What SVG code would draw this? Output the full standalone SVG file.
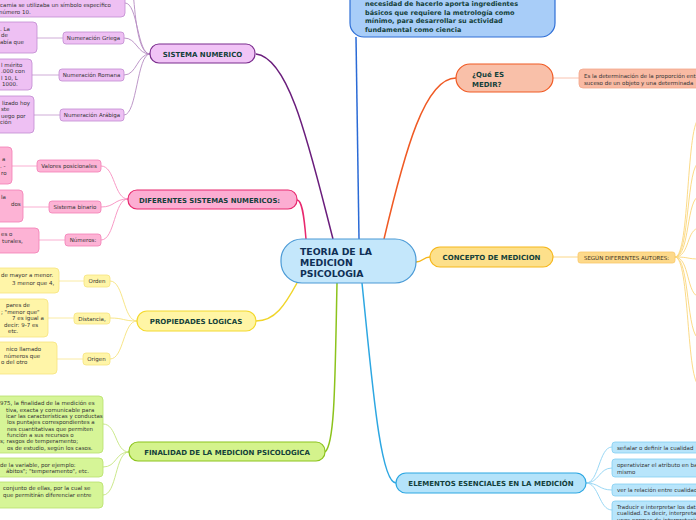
<svg xmlns="http://www.w3.org/2000/svg" width="696" height="520" viewBox="0 0 696 520">
<style>
.t{font-family:"DejaVu Sans","Liberation Sans",sans-serif;font-weight:bold;fill:#133f3a}
.l{font-family:"DejaVu Sans","Liberation Sans",sans-serif;font-size:5.5px;fill:#333}
.c{fill:none}
.m{text-anchor:middle}
</style>
<rect width="696" height="520" fill="#fff"/>
<g id="connectors" class="c">
  <path d="M333,239 C310,150 290,58 256,54" stroke="#6a1d7c" stroke-width="1.5"/>
  <path d="M306,239 C304,215 302,200 297,200" stroke="#e8286e" stroke-width="1.5"/>
  <path d="M359,239 C358,150 357,80 356,37" stroke="#2a6ad6" stroke-width="1.5"/>
  <path d="M384,239 C405,150 425,78 456,78" stroke="#f05a24" stroke-width="1.5"/>
  <path d="M416,262 C423,262 423,257 430,257" stroke="#f6b71c" stroke-width="1.5"/>
  <path d="M297,283 C285,305 275,321 256,321" stroke="#f0d52a" stroke-width="1.5"/>
  <path d="M337,283 C335,380 335,444 325,452" stroke="#8cc31c" stroke-width="1.5"/>
  <path d="M362,283 C372,380 380,483 396,483" stroke="#2da7e2" stroke-width="1.5"/>
  <g stroke="#b58bc2" stroke-width="0.9">
    <path d="M150,54 C137,54 138,3 125,3"/>
    <path d="M150,54 C137,54 135,10 133,-8"/>
    <path d="M150,54 C137,54 137,38 124,38"/>
    <path d="M150,54 C137,54 137,75 124,75"/>
    <path d="M150,54 C137,54 137,115 124,115"/>
    <path d="M63,38 H37 M59,75 H32 M60,115 H34" stroke="#c9a3d2"/>
  </g>
  <g stroke="#f78fc0" stroke-width="0.9">
    <path d="M128,199 C114,199 115,166 101,166"/>
    <path d="M128,199 C114,199 115,207 101,207"/>
    <path d="M128,199 C114,199 115,240 101,240"/>
    <path d="M37,166 H12 M49,207 H23 M65,240 H39" stroke="#f9a6cd"/>
  </g>
  <g stroke="#f6e27a" stroke-width="0.9">
    <path d="M137,321 C123,321 124,281 110,281"/>
    <path d="M137,321 C123,321 124,318 110,318"/>
    <path d="M137,321 C123,321 124,359 110,359"/>
    <path d="M84,281 H59 M74,318 H48 M83,359 H57" stroke="#f9e99a"/>
  </g>
  <g stroke="#c5e57f" stroke-width="0.9">
    <path d="M129,452 C115,452 117,424 103,424"/>
    <path d="M129,452 C115,452 117,467 103,467"/>
    <path d="M129,452 C115,452 117,495 103,495"/>
  </g>
  <path d="M553,78 H579" stroke="#f8bba6" stroke-width="0.9"/>
  <path d="M553,257 H578" stroke="#fbd27a" stroke-width="0.9"/>
  <g stroke="#fbd679" stroke-width="0.9">
    <path d="M675,257 C690,257 686,120 700,118"/>
    <path d="M675,257 C690,257 686,163 700,162"/>
    <path d="M675,257 C690,257 686,197 700,196"/>
    <path d="M675,257 C690,257 686,228 700,228"/>
    <path d="M675,257 C690,257 686,259 700,259"/>
    <path d="M675,257 C690,257 686,296 700,297"/>
    <path d="M675,257 C690,257 686,338 700,339"/>
    <path d="M675,257 C690,257 686,384 700,386"/>
  </g>
  <g stroke="#8fd3f3" stroke-width="0.9">
    <path d="M586,483 C599,483 599,447 612,447"/>
    <path d="M586,483 C599,483 599,468 612,468"/>
    <path d="M586,483 C599,483 599,490 612,490"/>
    <path d="M586,483 C599,483 599,510 612,510"/>
  </g>
</g>
<g id="central">
  <rect x="281" y="239" width="135" height="44" rx="21" fill="#c4e7fb" stroke="#4a9ad6" stroke-width="1.2"/>
  <text class="t" font-size="9.3" fill="#0f2f55" style="fill:#0f2f55"><tspan x="300" y="255">TEORIA DE LA</tspan><tspan x="300" y="266">MEDICION</tspan><tspan x="300" y="277">PSICOLOGIA</tspan></text>
</g>
<g id="top-node">
  <rect x="350" y="-20" width="205" height="57" rx="14" fill="#a8cdf8" stroke="#2f6fd6" stroke-width="1.2"/>
  <text class="t" font-size="6.5"><tspan x="365" y="6">necesidad de hacerlo aporta ingredientes</tspan><tspan x="365" y="14.5">básicos que requiere la metrología como</tspan><tspan x="365" y="23">mínimo, para desarrollar su actividad</tspan><tspan x="365" y="31.5">fundamental como ciencia</tspan></text>
</g>
<g id="sistema">
  <rect x="150" y="44" width="105" height="19" rx="9" fill="#f1c4f6" stroke="#7b2d8e" stroke-width="1.2"/>
  <text class="t m" x="202.5" y="56.5" font-size="7">SISTEMA NUMERICO</text>
</g>
<g id="sistema-children" fill="#eec0f3" stroke="#c08ad0" stroke-width="0.8">
  <rect x="-10" y="-12" width="135" height="29" rx="4"/>
  <rect x="63" y="32" width="61" height="12" rx="3"/>
  <rect x="59" y="69" width="65" height="12" rx="3"/>
  <rect x="60" y="109" width="64" height="12" rx="3"/>
  <rect x="-10" y="22" width="47" height="31" rx="4"/>
  <rect x="-10" y="59" width="42" height="31" rx="4"/>
  <rect x="-10" y="96" width="44" height="37" rx="4"/>
</g>
<g id="sistema-texts">
  <text class="l" x="0" y="7">camia se utilizaba un símbolo específico</text>
  <text class="l" x="-1" y="14">número 10.</text>
  <text class="l m" x="93.5" y="40">Numeración Griega</text>
  <text class="l m" x="91.5" y="77">Numeración Romana</text>
  <text class="l m" x="92" y="117">Numeración Arábiga</text>
  <text class="l" x="0" y="31">. La</text>
  <text class="l" x="1" y="37">de</text>
  <text class="l" x="0" y="44">abía que</text>
  <text class="l" x="1" y="67">l mérito</text>
  <text class="l" x="1" y="73">.000 con</text>
  <text class="l" x="1" y="80">l 10, L</text>
  <text class="l" x="2" y="86">1000.</text>
  <text class="l" x="2" y="105">lizado hoy</text>
  <text class="l" x="1" y="111">ste</text>
  <text class="l" x="1" y="118">uego por</text>
  <text class="l" x="0" y="124">ción</text>
</g>
<g id="diferentes">
  <rect x="128" y="190" width="169" height="19" rx="9" fill="#fcadd2" stroke="#e8286e" stroke-width="1.2"/>
  <text class="t" x="139" y="202.5" font-size="6.9">DIFERENTES SISTEMAS NUMERICOS:</text>
</g>
<g id="diferentes-children" fill="#fdb3d5" stroke="#f37db5" stroke-width="0.8">
  <rect x="37" y="160" width="64" height="12" rx="3"/>
  <rect x="49" y="201" width="52" height="12" rx="3"/>
  <rect x="65" y="234" width="36" height="12" rx="3"/>
  <rect x="-10" y="147" width="22" height="37" rx="4"/>
  <rect x="-10" y="190" width="33" height="32" rx="4"/>
  <rect x="-10" y="228" width="49" height="25" rx="4"/>
</g>
<g id="diferentes-texts">
  <text class="l m" x="69" y="168">Valores posicionales</text>
  <text class="l m" x="75" y="209">Sistema binario</text>
  <text class="l m" x="83" y="242">Números:</text>
  <text class="l" x="2" y="161">a</text>
  <text class="l" x="0" y="168">. -</text>
  <text class="l" x="1" y="175">ro</text>
  <text class="l" x="1" y="199">la</text>
  <text class="l" x="11" y="206">dos</text>
  <text class="l" x="1" y="236">es o</text>
  <text class="l" x="2" y="243">turales,</text>
</g>
<g id="propiedades">
  <rect x="137" y="311" width="119" height="20" rx="10" fill="#fff5a5" stroke="#f4d92e" stroke-width="1.2"/>
  <text class="t m" x="196" y="324" font-size="7">PROPIEDADES LOGICAS</text>
</g>
<g id="propiedades-children" fill="#fff5a8" stroke="#f6e37e" stroke-width="0.8">
  <rect x="84" y="275" width="26" height="12" rx="3"/>
  <rect x="74" y="313" width="36" height="11" rx="3"/>
  <rect x="83" y="353" width="27" height="12" rx="3"/>
  <rect x="-10" y="268" width="69" height="25" rx="4"/>
  <rect x="-10" y="299" width="58" height="38" rx="4"/>
  <rect x="-10" y="342" width="67" height="32" rx="4"/>
</g>
<g id="propiedades-texts">
  <text class="l m" x="97" y="283">Orden</text>
  <text class="l m" x="92" y="320.5">Distancia,</text>
  <text class="l m" x="96.5" y="361">Origen</text>
  <text class="l" x="1" y="277">de mayor a menor.</text>
  <text class="l" x="12" y="285">3 menor que 4,</text>
  <text class="l" x="6" y="307">pares de</text>
  <text class="l" x="1" y="314">;  "menor que"</text>
  <text class="l" x="12" y="320">7 es igual a</text>
  <text class="l" x="4" y="327">decir: 9-7 es</text>
  <text class="l" x="8" y="333">etc.</text>
  <text class="l" x="6" y="351">nico llamado</text>
  <text class="l" x="4" y="358">números que</text>
  <text class="l" x="1" y="364">o del otro</text>
</g>
<g id="finalidad">
  <rect x="129" y="442" width="196" height="19" rx="9" fill="#d4f38c" stroke="#8cc31c" stroke-width="1.2"/>
  <text class="t m" x="227" y="454.5" font-size="7">FINALIDAD DE LA MEDICION PSICOLOGICA</text>
</g>
<g id="finalidad-children" fill="#d6f597" stroke="#b7e06c" stroke-width="0.8">
  <rect x="-10" y="396" width="113" height="57" rx="4"/>
  <rect x="-10" y="458" width="113" height="19" rx="4"/>
  <rect x="-10" y="482" width="113" height="26" rx="4"/>
</g>
<g id="finalidad-texts">
  <text class="l" x="0" y="405">975, la finalidad de la medición es</text>
  <text class="l" x="6" y="411.5">tiva, exacta y comunicable para</text>
  <text class="l" x="6" y="418">icar las características  y conductas</text>
  <text class="l" x="7" y="424">los puntajes correspondientes a</text>
  <text class="l" x="7" y="430.5">nes cuantitativas que permiten</text>
  <text class="l" x="7" y="437">función a sus recursos o</text>
  <text class="l" x="0" y="443">s;  rasgos de temperamento;</text>
  <text class="l" x="7" y="450">os de estudio, según los casos.</text>
  <text class="l" x="0" y="466.5">de la variable, por ejemplo:</text>
  <text class="l" x="6" y="473">ábitos"; "temperamento", etc.</text>
  <text class="l" x="3" y="490">conjunto de ellas, por la cual se</text>
  <text class="l" x="3" y="497">que permitirán diferenciar entre</text>
</g>
<g id="medir">
  <rect x="456" y="64" width="97" height="28" rx="14" fill="#f9c0a9" stroke="#f05a24" stroke-width="1.2"/>
  <text class="t" font-size="7"><tspan x="472" y="77">¿Qué ES</tspan><tspan x="472" y="87">MEDIR?</tspan></text>
</g>
<g id="medir-child">
  <rect x="579" y="69" width="130" height="19" rx="4" fill="#f9baa3" stroke="#f4a78b" stroke-width="0.8"/>
  <text class="l" x="584" y="77.5">Es la determinación de la proporción ent</text>
  <text class="l" x="584" y="85">suceso de un objeto y una determinada</text>
</g>
<g id="concepto">
  <rect x="430" y="247" width="123" height="20" rx="10" fill="#fde08b" stroke="#f6b71c" stroke-width="1.2"/>
  <text class="t m" x="491.5" y="260" font-size="7">CONCEPTO DE MEDICION</text>
</g>
<g id="segun">
  <rect x="578" y="252" width="97" height="11" rx="2.5" fill="#fdd98a" stroke="#f9c86a" stroke-width="0.8"/>
  <text class="l m" x="626.5" y="259.8" style="font-size:5.5px;fill:#3a3020">SEGÚN DIFERENTES AUTORES:</text>
</g>
<g id="elementos">
  <rect x="396" y="473" width="190" height="20" rx="10" fill="#b4e3fa" stroke="#2da7e2" stroke-width="1.2"/>
  <text class="t m" x="491" y="486" font-size="7">ELEMENTOS ESENCIALES EN LA MEDICIÓN</text>
</g>
<g id="elementos-children" fill="#b8e5fb" stroke="#83cff2" stroke-width="0.8">
  <rect x="612" y="442" width="100" height="11" rx="3"/>
  <rect x="612" y="459" width="100" height="18" rx="3"/>
  <rect x="612" y="484" width="100" height="12" rx="3"/>
  <rect x="612" y="501" width="100" height="30" rx="3"/>
</g>
<g id="elementos-texts">
  <text class="l" x="617" y="450">señalar o definir la cualidad</text>
  <text class="l" x="617" y="467">operativizar el atributo en ba</text>
  <text class="l" x="617" y="474">mismo</text>
  <text class="l" x="617" y="492">ver la relación entre cualidad</text>
  <text class="l" x="617" y="508.5">Traducir e interpretar los dat</text>
  <text class="l" x="617" y="515">cualidad. Es decir, interpreta</text>
  <text class="l" x="617" y="521.5">unos normas de interpretació</text>
</g>
</svg>
